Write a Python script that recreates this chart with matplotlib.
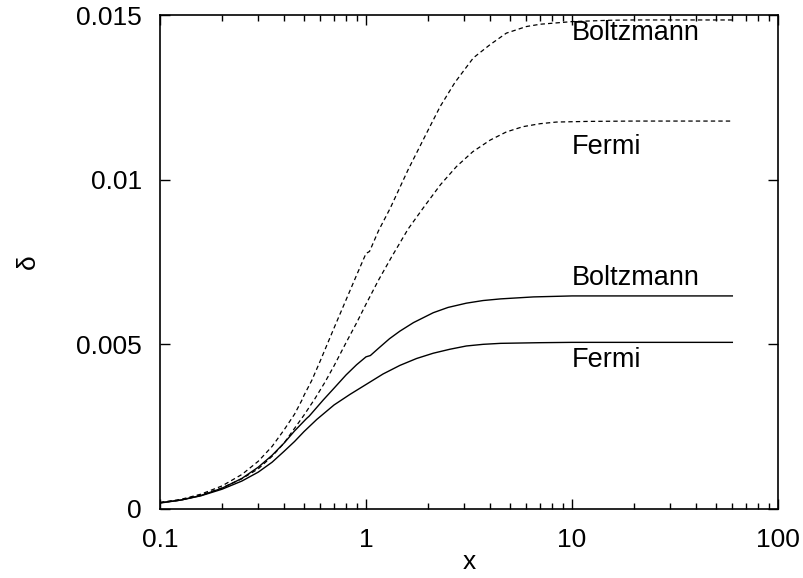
import matplotlib
matplotlib.use("Agg")
import matplotlib.pyplot as plt
from matplotlib.ticker import FixedLocator, LogLocator, NullFormatter

plt.rcParams['font.family'] = ['Liberation Sans', 'DejaVu Sans']

# Dashed Boltzmann (values in units of 1e-3)
x_db = [0.1, 0.126, 0.158, 0.2, 0.25, 0.3, 0.35, 0.4, 0.45, 0.488, 0.5, 0.545, 0.6, 0.7, 0.8, 0.9,
        1.0, 1.04, 1.15, 1.31, 1.6, 2.0, 2.29, 2.7, 3.32, 4.0, 4.8, 6.0, 7.0, 10, 15, 20, 60]
y_db = [0.20, 0.29, 0.45, 0.70, 1.05, 1.45, 1.9, 2.4, 2.88, 3.3, 3.45, 3.9, 4.5, 5.5, 6.35, 7.1,
        7.76, 7.82, 8.45, 9.13, 10.3, 11.5, 12.22, 12.95, 13.7, 14.1, 14.45, 14.65, 14.72, 14.8, 14.84, 14.85, 14.85]
# Dashed Fermi
x_df = [0.1, 0.126, 0.158, 0.2, 0.25, 0.3, 0.35, 0.4, 0.45, 0.5, 0.565, 0.632, 0.7, 0.8, 0.9,
        1.0, 1.15, 1.33, 1.6, 1.9, 2.3, 2.75, 3.3, 4.0, 4.8, 5.78, 7.0, 8.4, 12, 20, 60]
y_df = [0.19, 0.27, 0.42, 0.64, 0.92, 1.22, 1.6, 2.0, 2.45, 2.85, 3.35, 3.85, 4.35, 5.05, 5.65,
        6.22, 6.95, 7.65, 8.5, 9.15, 9.85, 10.4, 10.85, 11.2, 11.45, 11.61, 11.7, 11.75, 11.77, 11.78, 11.78]
# Solid Boltzmann
x_sb = [0.1, 0.126, 0.158, 0.2, 0.25, 0.3, 0.35, 0.4, 0.45, 0.515, 0.53, 0.62, 0.7, 0.8, 0.9,
        1.0, 1.05, 1.15, 1.3, 1.46, 1.7, 2.12, 2.5, 3.07, 3.7, 4.5, 6.5, 10, 60]
y_sb = [0.19, 0.27, 0.41, 0.63, 0.93, 1.27, 1.63, 2.0, 2.37, 2.75, 2.82, 3.31, 3.67, 4.07, 4.38,
        4.62, 4.66, 4.88, 5.17, 5.4, 5.66, 5.96, 6.12, 6.25, 6.33, 6.38, 6.44, 6.47, 6.47]
# Solid Fermi
x_sf = [0.1, 0.126, 0.158, 0.2, 0.25, 0.3, 0.35, 0.4, 0.45, 0.5, 0.577, 0.7, 0.836,
        1.0, 1.21, 1.46, 1.76, 2.12, 2.55, 3.07, 3.7, 4.5, 7.0, 10, 60]
y_sf = [0.18, 0.27, 0.40, 0.60, 0.85, 1.12, 1.42, 1.75, 2.05, 2.35, 2.72, 3.16, 3.48,
        3.78, 4.1, 4.36, 4.57, 4.73, 4.85, 4.95, 5.0, 5.03, 5.05, 5.06, 5.06]

labels = ["Boltzmann", "Fermi", "Boltzmann", "Fermi"]
label_x = [10.0, 10.0, 10.0, 10.0]
label_y = [14.45, 11.0, 7.0, 4.52]

y_ticks = [0, 0.005, 0.01, 0.015]
y_ticklabels = ["0", "0.005", "0.01", "0.015"]
x_ticks = [0.1, 1, 10, 100]
x_ticklabels = ["0.1", "1", "10", "100"]

fig = plt.figure(figsize=(8.04, 5.78), dpi=100)
ax = fig.add_axes([0.199, 0.1194, 0.7687, 0.8546])

s = 1e-3
dash = (0, (3.5, 2.5))
ax.plot(x_db, [v * s for v in y_db], color='black', lw=0.9, ls=dash)
ax.plot(x_df, [v * s for v in y_df], color='black', lw=0.9, ls=dash)
ax.plot(x_sb, [v * s for v in y_sb], color='black', lw=1.0)
ax.plot(x_sf, [v * s for v in y_sf], color='black', lw=1.0)

for t, lx, ly in zip(labels, label_x, label_y):
    ax.text(lx, ly * s, t, fontsize=19.5, ha='left', va='center')

ax.set_xscale('log')
ax.set_xlim(0.1, 100)
ax.set_ylim(0, 0.015)
ax.xaxis.set_major_locator(FixedLocator(x_ticks))
ax.set_xticklabels(x_ticklabels)
ax.xaxis.set_minor_locator(LogLocator(base=10, subs=range(2, 10)))
ax.xaxis.set_minor_formatter(NullFormatter())
ax.set_yticks(y_ticks)
ax.set_yticklabels(y_ticklabels)
ax.tick_params(which='both', direction='in', top=True, right=True, labelsize=19, width=1)
ax.tick_params(axis='y', pad=13)
ax.tick_params(axis='x', pad=14)
ax.tick_params(which='major', length=7)
ax.tick_params(which='minor', length=4)
for sp in ax.spines.values():
    sp.set_linewidth(1.2)

ax.set_xlabel('x', fontsize=19, labelpad=-2)
ax.set_ylabel('δ', fontsize=19, labelpad=26)

fig.savefig('out.png', dpi=100)
